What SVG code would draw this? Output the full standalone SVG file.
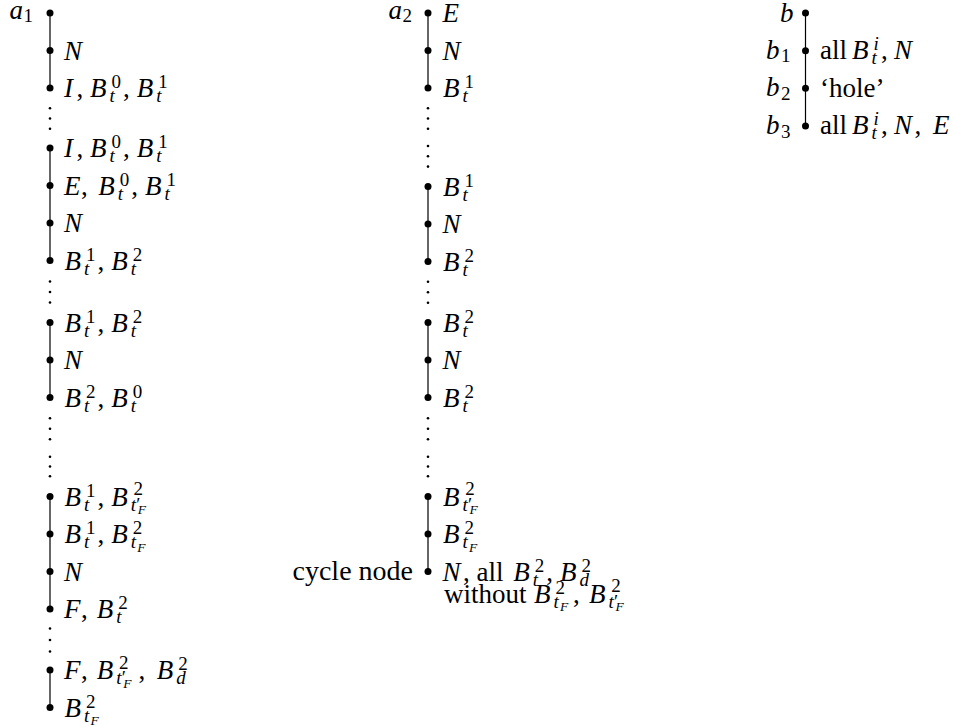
<svg xmlns="http://www.w3.org/2000/svg" width="956" height="727" viewBox="0 0 956 727">
<style>
text{font-family:"Liberation Serif","Times New Roman",serif;fill:#000}
.m{font-style:italic;font-size:27px}
.t{font-style:normal;font-size:27px}
.r{font-style:normal;font-size:27px}
.s{font-style:italic;font-size:19px}
.sr{font-style:normal;font-size:19px}
.ss{font-style:italic;font-size:13.5px}
.nd{fill:#000}
.ln{stroke:#000;stroke-width:1.2;fill:none}
.vd{fill:#000}
</style>
<rect width="956" height="727" fill="#fff"/>
<g id="connectors">
<path class="ln" d="M50,13V88M50,148V260.5M50,322.5V397.5M50,496.5V609M50,670V707.5"/>
<path class="ln" d="M428,13V88M428,186.5V261.5M428,322.5V397.5M428,496.5V571.5"/>
<path class="ln" d="M805.5,13V126"/>
<g class="vd">
<circle cx="50" cy="108.3" r="1.3"/><circle cx="50" cy="118.5" r="1.3"/><circle cx="50" cy="128.7" r="1.3"/>
<circle cx="50" cy="281.5" r="1.3"/><circle cx="50" cy="292" r="1.3"/><circle cx="50" cy="302.5" r="1.3"/>
<circle cx="50" cy="418.3" r="1.3"/><circle cx="50" cy="428.8" r="1.3"/><circle cx="50" cy="439.3" r="1.3"/>
<circle cx="50" cy="456.7" r="1.3"/><circle cx="50" cy="466.5" r="1.3"/><circle cx="50" cy="476.3" r="1.3"/>
<circle cx="50" cy="628.5" r="1.3"/><circle cx="50" cy="640" r="1.3"/><circle cx="50" cy="651.5" r="1.3"/>
<circle cx="428" cy="108.3" r="1.3"/><circle cx="428" cy="118.5" r="1.3"/><circle cx="428" cy="128.7" r="1.3"/>
<circle cx="428" cy="146" r="1.3"/><circle cx="428" cy="156.3" r="1.3"/><circle cx="428" cy="166.6" r="1.3"/>
<circle cx="428" cy="281.7" r="1.3"/><circle cx="428" cy="292.2" r="1.3"/><circle cx="428" cy="302.7" r="1.3"/>
<circle cx="428" cy="418.3" r="1.3"/><circle cx="428" cy="428.8" r="1.3"/><circle cx="428" cy="439.3" r="1.3"/>
<circle cx="428" cy="456.7" r="1.3"/><circle cx="428" cy="466.5" r="1.3"/><circle cx="428" cy="476.3" r="1.3"/>
</g>
</g>

<!-- Column a1 -->
<g id="a1-0"><circle class="nd" cx="50" cy="13" r="3.5"/><text class="m" x="9.5" y="18.5">a<tspan class="sr" x="23.5" y="22">1</tspan></text></g>
<g id="a1-1"><circle class="nd" cx="50" cy="50.5" r="3.5"/><text class="m" x="64" y="59.5">N</text></g>
<g id="a1-2"><circle class="nd" cx="50" cy="88" r="3.5"/><text class="m" x="64" y="97">I<tspan class="r" x="76.5" y="97">,</tspan><tspan x="90" y="97">B</tspan><tspan class="s" x="109.5" y="102">t</tspan><tspan class="sr" x="111.5" y="88">0</tspan><tspan class="r" x="123" y="97">,</tspan><tspan x="136.7" y="97">B</tspan><tspan class="s" x="156.2" y="102">t</tspan><tspan class="sr" x="158.2" y="88">1</tspan></text></g>
<g id="a1-3"><circle class="nd" cx="50" cy="148" r="3.5"/><text class="m" x="64" y="157">I<tspan class="r" x="76.5" y="157">,</tspan><tspan x="90" y="157">B</tspan><tspan class="s" x="109.5" y="162">t</tspan><tspan class="sr" x="111.5" y="148">0</tspan><tspan class="r" x="123" y="157">,</tspan><tspan x="136.7" y="157">B</tspan><tspan class="s" x="156.2" y="162">t</tspan><tspan class="sr" x="158.2" y="148">1</tspan></text></g>
<g id="a1-4"><circle class="nd" cx="50" cy="185.5" r="3.5"/><text class="m" x="64" y="194.5">E<tspan class="r" x="81" y="194.5">,</tspan><tspan x="98.3" y="194.5">B</tspan><tspan class="s" x="117.8" y="199.5">t</tspan><tspan class="sr" x="119.8" y="185.5">0</tspan><tspan class="r" x="131.3" y="194.5">,</tspan><tspan x="145" y="194.5">B</tspan><tspan class="s" x="164.5" y="199.5">t</tspan><tspan class="sr" x="166.5" y="185.5">1</tspan></text></g>
<g id="a1-5"><circle class="nd" cx="50" cy="223" r="3.5"/><text class="m" x="64" y="232">N</text></g>
<g id="a1-6"><circle class="nd" cx="50" cy="260.5" r="3.5"/><text class="m" x="64.5" y="269.5">B<tspan class="s" x="84" y="274.5">t</tspan><tspan class="sr" x="86" y="260.5">1</tspan><tspan class="r" x="97.5" y="269.5">,</tspan><tspan x="111.2" y="269.5">B</tspan><tspan class="s" x="130.7" y="274.5">t</tspan><tspan class="sr" x="132.7" y="260.5">2</tspan></text></g>
<g id="a1-7"><circle class="nd" cx="50" cy="322.5" r="3.5"/><text class="m" x="64.5" y="331.5">B<tspan class="s" x="84" y="336.5">t</tspan><tspan class="sr" x="86" y="322.5">1</tspan><tspan class="r" x="97.5" y="331.5">,</tspan><tspan x="111.2" y="331.5">B</tspan><tspan class="s" x="130.7" y="336.5">t</tspan><tspan class="sr" x="132.7" y="322.5">2</tspan></text></g>
<g id="a1-8"><circle class="nd" cx="50" cy="360" r="3.5"/><text class="m" x="64" y="369">N</text></g>
<g id="a1-9"><circle class="nd" cx="50" cy="397.5" r="3.5"/><text class="m" x="64.5" y="406.5">B<tspan class="s" x="84" y="411.5">t</tspan><tspan class="sr" x="86" y="397.5">2</tspan><tspan class="r" x="97.5" y="406.5">,</tspan><tspan x="111.2" y="406.5">B</tspan><tspan class="s" x="130.7" y="411.5">t</tspan><tspan class="sr" x="132.7" y="397.5">0</tspan></text></g>
<g id="a1-10"><circle class="nd" cx="50" cy="496.5" r="3.5"/><text class="m" x="64.5" y="505.5">B<tspan class="s" x="84" y="510.5">t</tspan><tspan class="sr" x="86" y="496.5">1</tspan><tspan class="r" x="97.5" y="505.5">,</tspan><tspan x="111.2" y="505.5">B</tspan><tspan class="s" x="130.7" y="510.5">t</tspan><tspan class="sr" x="136.2" y="510.5">′</tspan><tspan class="ss" x="137.7" y="514">F</tspan><tspan class="sr" x="133.5" y="495">2</tspan></text></g>
<g id="a1-11"><circle class="nd" cx="50" cy="534" r="3.5"/><text class="m" x="64.5" y="543">B<tspan class="s" x="84" y="548">t</tspan><tspan class="sr" x="86" y="534">1</tspan><tspan class="r" x="97.5" y="543">,</tspan><tspan x="111.2" y="543">B</tspan><tspan class="s" x="130.7" y="548">t</tspan><tspan class="ss" x="137.2" y="551.5">F</tspan><tspan class="sr" x="132.7" y="534">2</tspan></text></g>
<g id="a1-12"><circle class="nd" cx="50" cy="571.5" r="3.5"/><text class="m" x="64" y="580.5">N</text></g>
<g id="a1-13"><circle class="nd" cx="50" cy="609" r="3.5"/><text class="m" x="64" y="618">F<tspan class="r" x="81" y="618">,</tspan><tspan x="96.7" y="618">B</tspan><tspan class="s" x="116.2" y="623">t</tspan><tspan class="sr" x="118.2" y="609">2</tspan></text></g>
<g id="a1-14"><circle class="nd" cx="50" cy="670" r="3.5"/><text class="m" x="64" y="679">F<tspan class="r" x="81" y="679">,</tspan><tspan x="96.7" y="679">B</tspan><tspan class="s" x="116.2" y="684">t</tspan><tspan class="sr" x="121.7" y="684">′</tspan><tspan class="ss" x="123.2" y="687.5">F</tspan><tspan class="sr" x="119" y="668.5">2</tspan><tspan class="r" x="138.5" y="679">,</tspan><tspan x="156.7" y="679">B</tspan><tspan class="s" x="176.2" y="684">d</tspan><tspan class="sr" x="178.2" y="670">2</tspan></text></g>
<g id="a1-15"><circle class="nd" cx="50" cy="707.5" r="3.5"/><text class="m" x="64.5" y="716.5">B<tspan class="s" x="84" y="721.5">t</tspan><tspan class="ss" x="90.5" y="725">F</tspan><tspan class="sr" x="86" y="707.5">2</tspan></text></g>

<!-- Column a2 -->
<g id="a2-0"><circle class="nd" cx="428" cy="13" r="3.5"/><text class="m" x="388.5" y="18.5">a<tspan class="sr" x="402.5" y="22">2</tspan></text><text class="m" x="442.5" y="22">E</text></g>
<g id="a2-1"><circle class="nd" cx="428" cy="50.5" r="3.5"/><text class="m" x="442.5" y="59.5">N</text></g>
<g id="a2-2"><circle class="nd" cx="428" cy="88" r="3.5"/><text class="m" x="443" y="97">B<tspan class="s" x="462.5" y="102">t</tspan><tspan class="sr" x="464.5" y="88">1</tspan></text></g>
<g id="a2-3"><circle class="nd" cx="428" cy="186.5" r="3.5"/><text class="m" x="443" y="195.5">B<tspan class="s" x="462.5" y="200.5">t</tspan><tspan class="sr" x="464.5" y="186.5">1</tspan></text></g>
<g id="a2-4"><circle class="nd" cx="428" cy="224" r="3.5"/><text class="m" x="442.5" y="233">N</text></g>
<g id="a2-5"><circle class="nd" cx="428" cy="261.5" r="3.5"/><text class="m" x="443" y="270.5">B<tspan class="s" x="462.5" y="275.5">t</tspan><tspan class="sr" x="464.5" y="261.5">2</tspan></text></g>
<g id="a2-6"><circle class="nd" cx="428" cy="322.5" r="3.5"/><text class="m" x="443" y="331.5">B<tspan class="s" x="462.5" y="336.5">t</tspan><tspan class="sr" x="464.5" y="322.5">2</tspan></text></g>
<g id="a2-7"><circle class="nd" cx="428" cy="360" r="3.5"/><text class="m" x="442.5" y="369">N</text></g>
<g id="a2-8"><circle class="nd" cx="428" cy="397.5" r="3.5"/><text class="m" x="443" y="406.5">B<tspan class="s" x="462.5" y="411.5">t</tspan><tspan class="sr" x="464.5" y="397.5">2</tspan></text></g>
<g id="a2-9"><circle class="nd" cx="428" cy="496.5" r="3.5"/><text class="m" x="443" y="505.5">B<tspan class="s" x="462.5" y="510.5">t</tspan><tspan class="sr" x="468" y="510.5">′</tspan><tspan class="ss" x="469.5" y="514">F</tspan><tspan class="sr" x="465.3" y="495">2</tspan></text></g>
<g id="a2-10"><circle class="nd" cx="428" cy="534" r="3.5"/><text class="m" x="443" y="543">B<tspan class="s" x="462.5" y="548">t</tspan><tspan class="ss" x="469" y="551.5">F</tspan><tspan class="sr" x="464.5" y="534">2</tspan></text></g>
<g id="a2-cycle"><circle class="nd" cx="428" cy="571.5" r="3.5"/>
<text class="t" x="413" y="580" text-anchor="end" style="font-size:28px">cycle node</text>
<text class="m" x="442.5" y="580.5">N<tspan class="r" x="463" y="580.5">, all</tspan><tspan x="513.3" y="580.5">B</tspan><tspan class="s" x="532.8" y="585.5">t</tspan><tspan class="sr" x="534.8" y="571.5">2</tspan><tspan class="r" x="546.3" y="580.5">,</tspan><tspan x="560" y="580.5">B</tspan><tspan class="s" x="579.5" y="585.5">d</tspan><tspan class="sr" x="581.5" y="571.5">2</tspan></text>
<text class="m" x="444" y="602.5"><tspan class="r">without</tspan><tspan x="534" y="602.5">B</tspan><tspan class="s" x="553.5" y="607.5">t</tspan><tspan class="ss" x="560" y="611">F</tspan><tspan class="sr" x="555.5" y="593.5">2</tspan><tspan class="r" x="573" y="602.5">,</tspan><tspan x="589" y="602.5">B</tspan><tspan class="s" x="608.5" y="607.5">t</tspan><tspan class="sr" x="614" y="607.5">′</tspan><tspan class="ss" x="615.5" y="611">F</tspan><tspan class="sr" x="611.3" y="592">2</tspan></text>
</g>

<!-- Column b -->
<g id="b-0"><circle class="nd" cx="805.5" cy="13" r="3.5"/><text class="m" x="780" y="22">b</text></g>
<g id="b-1"><circle class="nd" cx="805.5" cy="50.7" r="3.5"/><text class="m" x="766" y="58.7">b<tspan class="sr" x="781" y="62.2">1</tspan></text><text class="t" x="820" y="58.5">all<tspan class="m" x="852" y="58.5">B</tspan><tspan class="s" x="871.5" y="63.5">t</tspan><tspan class="s" x="873.5" y="49.5">i</tspan><tspan class="r" x="881" y="58.5">,</tspan><tspan class="m" x="894" y="58.5">N</tspan></text></g>
<g id="b-2"><circle class="nd" cx="805.5" cy="88.3" r="3.5"/><text class="m" x="766" y="96.3">b<tspan class="sr" x="781" y="99.8">2</tspan></text><text class="t" x="820" y="96.5">‘hole’</text></g>
<g id="b-3"><circle class="nd" cx="805.5" cy="126" r="3.5"/><text class="m" x="766" y="134">b<tspan class="sr" x="781" y="137.5">3</tspan></text><text class="t" x="820" y="134">all<tspan class="m" x="852" y="134">B</tspan><tspan class="s" x="871.5" y="139">t</tspan><tspan class="s" x="873.5" y="125">i</tspan><tspan class="r" x="881" y="134">,</tspan><tspan class="m" x="894" y="134">N</tspan><tspan class="r" x="914.5" y="134">,</tspan><tspan class="m" x="933" y="134">E</tspan></text></g>
</svg>
